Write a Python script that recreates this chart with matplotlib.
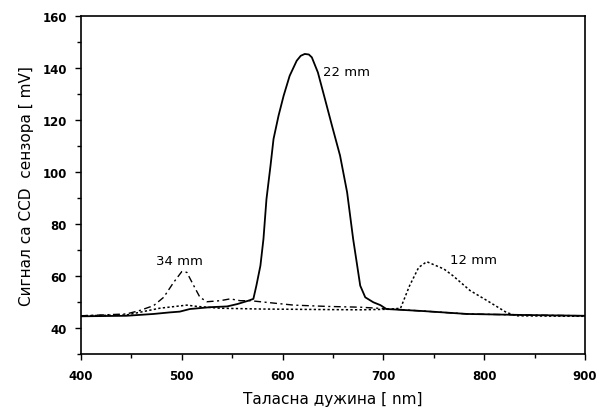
import numpy as np
import matplotlib
matplotlib.use("Agg")
import matplotlib.pyplot as plt
from matplotlib.ticker import MultipleLocator

# 22 mm (solid)
wl_22 = [400, 445, 472, 488, 498, 508, 528, 545, 555, 566, 571, 574, 578, 581,
         584, 588, 591, 596, 601, 607, 614, 618, 622, 626, 629, 635, 642, 649,
         657, 664, 670, 674, 677, 682, 690, 697, 703, 740, 783, 840, 900]
sig_22 = [44.5, 44.7, 45.4, 46.0, 46.3, 47.3, 48.0, 48.3, 49.2, 50.5, 51.2, 56.3,
          64.0, 74.2, 89.6, 102.4, 112.7, 121.7, 129.3, 137.0, 142.8, 144.7,
          145.4, 145.2, 144.1, 138.3, 128.1, 117.8, 106.3, 92.2, 74.2, 64.0,
          56.3, 51.8, 49.9, 48.8, 47.3, 46.5, 45.4, 45.0, 44.7]

# 34 mm (dash-dot)
wl_34 = [400, 445, 458, 472, 482, 492, 500, 505, 511, 518, 525, 538, 548, 558,
         568, 578, 611, 644, 677, 703, 740, 783, 840, 900]
sig_34 = [44.7, 45.4, 46.7, 48.6, 51.8, 57.6, 61.7, 61.4, 56.9, 51.8, 50.1, 50.5,
          51.2, 50.5, 50.5, 50.1, 48.8, 48.3, 48.0, 47.4, 46.5, 45.4, 45.0, 44.7]

# 12 mm (dotted)
wl_12 = [400, 445, 478, 505, 515, 538, 578, 640, 677, 705, 717, 726, 735, 743,
         760, 769, 786, 803, 822, 832, 860, 900]
sig_12 = [44.7, 45.0, 47.6, 48.8, 48.3, 47.6, 47.3, 47.1, 47.0, 47.2, 47.6, 56.3,
          63.3, 65.5, 62.7, 60.1, 54.4, 50.5, 46.0, 44.7, 44.6, 44.5]

fig = plt.figure(figsize=(5.99, 4.14), dpi=100)
ax = fig.add_axes([81 / 599, 1 - 355 / 414, 504 / 599, 338 / 414])

ax.plot(wl_22, sig_22, color="black", lw=1.3, ls="-")
ax.plot(wl_34, sig_34, color="black", lw=1.0, ls=(0, (5, 2.5, 1.5, 2.5)))
ax.plot(wl_12, sig_12, color="black", lw=1.1, ls=(0, (1.5, 1.5)))

ax.text(640, 138.8, "22 mm", fontsize=9.5, va="center", ha="left")
ax.text(498, 66.0, "34 mm", fontsize=9.5, va="center", ha="center")
ax.text(766, 66.5, "12 mm", fontsize=9.5, va="center", ha="left")

ax.set_xlim(400, 900)
ax.set_ylim(30, 160)
ax.xaxis.set_major_locator(MultipleLocator(100))
ax.xaxis.set_minor_locator(MultipleLocator(50))
ax.yaxis.set_minor_locator(MultipleLocator(10))
ax.set_yticks([40, 60, 80, 100, 120, 140, 160])
ax.tick_params(which="both", direction="out", top=False, right=False, width=1)
ax.tick_params(which="major", length=4, labelsize=8.5)
ax.tick_params(which="minor", length=3)
ax.tick_params(axis="x", which="major", pad=7)
ax.tick_params(axis="y", which="major", pad=6)
for lab in ax.get_xticklabels() + ax.get_yticklabels():
    lab.set_fontweight("bold")
for sp in ax.spines.values():
    sp.set_linewidth(1.2)

ax.set_xlabel("Таласна дужина [ nm]", fontsize=11, labelpad=6)
ax.set_ylabel("Сигнал са CCD  сензора [ mV]", fontsize=11, labelpad=6)

fig.savefig("out.png", dpi=100)
